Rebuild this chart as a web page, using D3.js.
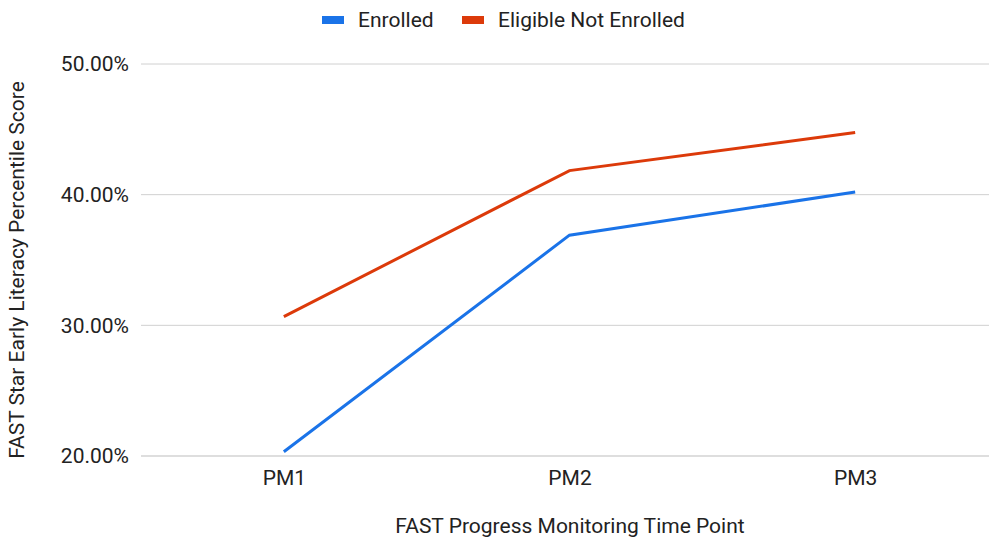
<!DOCTYPE html>
<html>
<head>
<meta charset="utf-8">
<script src="https://cdn.jsdelivr.net/npm/d3@7"></script>
<style>
  body { margin: 0; background: #fff; }
  svg text { font-family: Roboto, "Noto Sans", sans-serif; fill: #222; }
</style>
</head>
<body>
<svg id="chart" width="989" height="539"></svg>
<script>
// time points on the x axis
var timePoints = ["PM1", "PM2", "PM3"];
// percentile scores (percent)
var enrolled = [20.33, 36.9, 40.2];
var eligibleNotEnrolled = [30.67, 41.84, 44.75];
var yTicks = [20, 30, 40, 50];

var series = [
    { name: "Enrolled", values: enrolled, color: "#1a73e8" },
    { name: "Eligible Not Enrolled", values: eligibleNotEnrolled, color: "#dc3a0a" }
];

var fontSize = 21;
var svg = d3.select("#chart");
var plotLeft = 141, plotRight = 989, plotTop = 64, plotBottom = 456;

var x = d3.scalePoint().domain(timePoints).range([plotLeft, 998]).padding(0.5);
var y = d3.scaleLinear().domain([20, 50]).range([plotBottom, plotTop]);

// gridlines
svg.append("g")
    .selectAll("line")
    .data(yTicks)
    .enter()
    .append("line")
    .attr("x1", plotLeft)
    .attr("x2", plotRight)
    .attr("y1", function (d) { return y(d); })
    .attr("y2", function (d) { return y(d); })
    .attr("stroke", function (d) { return d == 20 ? "#bdbdbd" : "#d0d0d0"; })
    .attr("stroke-width", 1);

// y axis labels
var yAxis = d3.axisLeft(y).tickValues(yTicks).tickSize(0).tickPadding(12)
    .tickFormat(function (d) { return d.toFixed(2) + "%"; });
svg.append("g")
    .attr("transform", "translate(" + plotLeft + ",0)")
    .call(yAxis)
    .call(function (g) { g.select(".domain").remove(); })
    .selectAll("text")
    .attr("font-size", fontSize)
    .style("font-family", "Roboto, sans-serif")
    .attr("fill", "#222");

// x axis labels
var xAxis = d3.axisBottom(x).tickSize(0).tickPadding(14);
svg.append("g")
    .attr("transform", "translate(0," + plotBottom + ")")
    .call(xAxis)
    .call(function (g) { g.select(".domain").remove(); })
    .selectAll("text")
    .attr("font-size", fontSize)
    .style("font-family", "Roboto, sans-serif")
    .attr("fill", "#222");

// lines
var line = d3.line()
    .x(function (d, i) { return x(timePoints[i]); })
    .y(function (d) { return y(d); });

svg.append("g")
    .selectAll("path")
    .data(series)
    .enter()
    .append("path")
    .attr("d", function (d) { return line(d.values); })
    .attr("fill", "none")
    .attr("stroke", function (d) { return d.color; })
    .attr("stroke-width", 3);

// legend
var legendX = [322, 462];
var legend = svg.append("g")
    .selectAll("g")
    .data(series)
    .enter()
    .append("g")
    .attr("transform", function (d, i) { return "translate(" + legendX[i] + ",20)"; });
legend.append("rect")
    .attr("x", 0).attr("y", -4)
    .attr("width", 22).attr("height", 8)
    .attr("fill", function (d) { return d.color; });
legend.append("text")
    .attr("x", 36).attr("y", 0)
    .attr("dy", "0.35em")
    .attr("font-size", fontSize)
    .text(function (d) { return d.name; });

// axis titles
svg.append("text")
    .attr("x", 570).attr("y", 533)
    .attr("text-anchor", "middle")
    .attr("font-size", fontSize)
    .text("FAST Progress Monitoring Time Point");

svg.append("text")
    .attr("transform", "translate(24,270) rotate(-90)")
    .attr("text-anchor", "middle")
    .attr("font-size", fontSize)
    .text("FAST Star Early Literacy Percentile Score");
</script>
</body>
</html>
